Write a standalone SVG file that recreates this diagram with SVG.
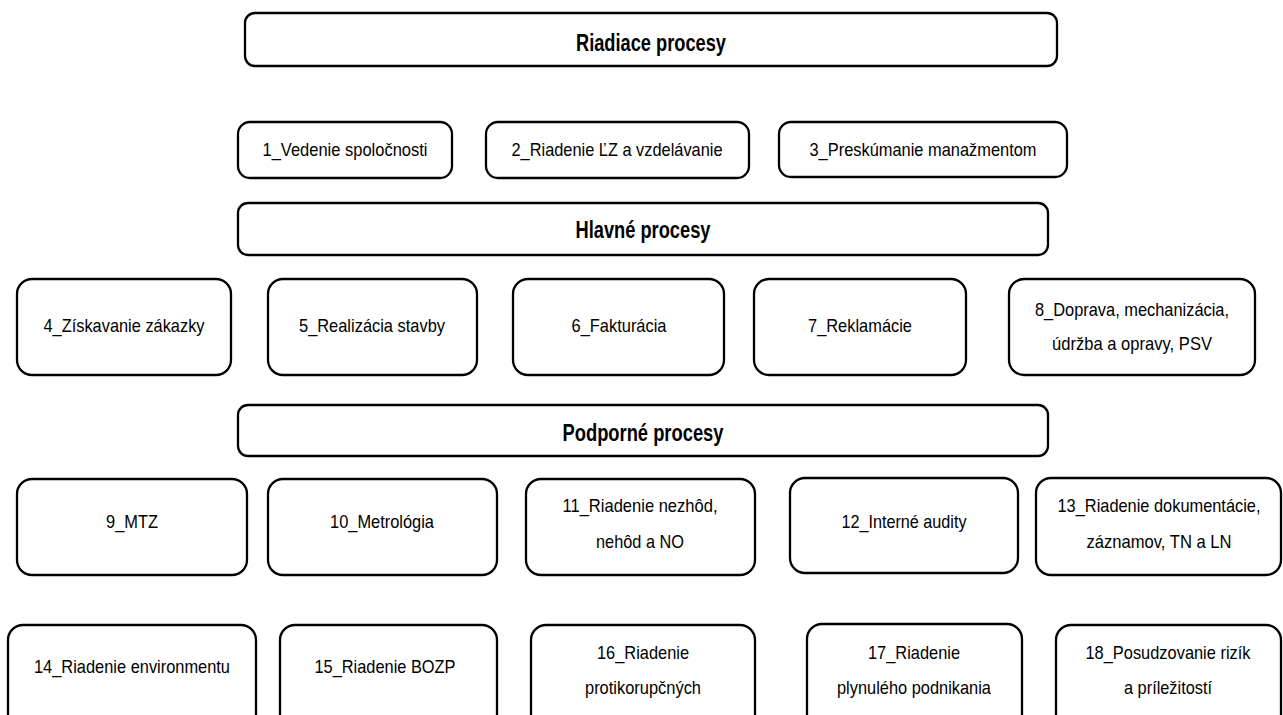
<svg xmlns="http://www.w3.org/2000/svg" width="1283" height="715" viewBox="0 0 1283 715">
<style>
.box{fill:#fff;stroke:#000;stroke-width:2.3}
.t{font-family:"Liberation Sans",Arial,sans-serif;font-size:19px;fill:#000;text-anchor:middle}
.h{font-family:"Liberation Sans",Arial,sans-serif;font-size:23px;font-weight:bold;fill:#000;text-anchor:middle}
</style>
<rect width="1283" height="715" fill="#fff"/>
<g id="connectors"></g>
<g id="hdr-riadiace"><rect class="box" x="245" y="13" width="812" height="53" rx="10"/><text class="h" x="651" y="51" textLength="150" lengthAdjust="spacingAndGlyphs">Riadiace procesy</text></g>
<g id="n1"><rect class="box" x="238" y="122" width="214" height="56" rx="12"/><text class="t" x="345" y="156" textLength="165" lengthAdjust="spacingAndGlyphs">1_Vedenie spoločnosti</text></g>
<g id="n2"><rect class="box" x="486" y="122" width="263" height="56" rx="12"/><text class="t" x="617" y="156" textLength="211" lengthAdjust="spacingAndGlyphs">2_Riadenie ĽZ a vzdelávanie</text></g>
<g id="n3"><rect class="box" x="779" y="122" width="288" height="55" rx="12"/><text class="t" x="923" y="156" textLength="227" lengthAdjust="spacingAndGlyphs">3_Preskúmanie manažmentom</text></g>
<g id="hdr-hlavne"><rect class="box" x="238" y="203" width="810" height="52" rx="10"/><text class="h" x="643" y="238" textLength="135" lengthAdjust="spacingAndGlyphs">Hlavné procesy</text></g>
<g id="n4"><rect class="box" x="17" y="279" width="214" height="96" rx="15"/><text class="t" x="124" y="332" textLength="161" lengthAdjust="spacingAndGlyphs">4_Získavanie zákazky</text></g>
<g id="n5"><rect class="box" x="268" y="279" width="209" height="96" rx="15"/><text class="t" x="372" y="332" textLength="146" lengthAdjust="spacingAndGlyphs">5_Realizácia stavby</text></g>
<g id="n6"><rect class="box" x="513" y="279" width="211" height="96" rx="15"/><text class="t" x="619" y="332" textLength="95" lengthAdjust="spacingAndGlyphs">6_Fakturácia</text></g>
<g id="n7"><rect class="box" x="754" y="279" width="212" height="96" rx="15"/><text class="t" x="860" y="332" textLength="104" lengthAdjust="spacingAndGlyphs">7_Reklamácie</text></g>
<g id="n8"><rect class="box" x="1009" y="279" width="246" height="96" rx="15"/><text class="t" x="1132" y="316" textLength="194" lengthAdjust="spacingAndGlyphs">8_Doprava, mechanizácia,</text><text class="t" x="1132" y="350" textLength="160" lengthAdjust="spacingAndGlyphs">údržba a opravy, PSV</text></g>
<g id="hdr-podporne"><rect class="box" x="238" y="405" width="810" height="51" rx="10"/><text class="h" x="643" y="441" textLength="161" lengthAdjust="spacingAndGlyphs">Podporné procesy</text></g>
<g id="n9"><rect class="box" x="17" y="479" width="230" height="96" rx="15"/><text class="t" x="132" y="528" textLength="52" lengthAdjust="spacingAndGlyphs">9_MTZ</text></g>
<g id="n10"><rect class="box" x="268" y="479" width="229" height="96" rx="15"/><text class="t" x="382" y="528" textLength="104" lengthAdjust="spacingAndGlyphs">10_Metrológia</text></g>
<g id="n11"><rect class="box" x="526" y="479" width="229" height="96" rx="15"/><text class="t" x="640" y="512" textLength="155" lengthAdjust="spacingAndGlyphs">11_Riadenie nezhôd,</text><text class="t" x="640" y="548" textLength="88" lengthAdjust="spacingAndGlyphs">nehôd a NO</text></g>
<g id="n12"><rect class="box" x="790" y="478" width="228" height="95" rx="15"/><text class="t" x="904" y="528" textLength="125" lengthAdjust="spacingAndGlyphs">12_Interné audity</text></g>
<g id="n13"><rect class="box" x="1036" y="478" width="245" height="97" rx="15"/><text class="t" x="1159" y="512" font-size="17" textLength="203" lengthAdjust="spacingAndGlyphs">13_Riadenie dokumentácie,</text><text class="t" x="1159" y="548" textLength="145" lengthAdjust="spacingAndGlyphs">záznamov, TN a LN</text></g>
<g id="n14"><rect class="box" x="8" y="625" width="248" height="110" rx="15"/><text class="t" x="132" y="673" textLength="196" lengthAdjust="spacingAndGlyphs">14_Riadenie environmentu</text></g>
<g id="n15"><rect class="box" x="280" y="625" width="217" height="110" rx="15"/><text class="t" x="385" y="673" textLength="141" lengthAdjust="spacingAndGlyphs">15_Riadenie BOZP</text></g>
<g id="n16"><rect class="box" x="531" y="625" width="224" height="110" rx="15"/><text class="t" x="643" y="659" textLength="92" lengthAdjust="spacingAndGlyphs">16_Riadenie</text><text class="t" x="643" y="694" textLength="116" lengthAdjust="spacingAndGlyphs">protikorupčných</text></g>
<g id="n17"><rect class="box" x="807" y="624" width="215" height="111" rx="15"/><text class="t" x="914" y="659" textLength="92" lengthAdjust="spacingAndGlyphs">17_Riadenie</text><text class="t" x="914" y="694" textLength="154" lengthAdjust="spacingAndGlyphs">plynulého podnikania</text></g>
<g id="n18"><rect class="box" x="1056" y="625" width="225" height="110" rx="15"/><text class="t" x="1168" y="659" textLength="165" lengthAdjust="spacingAndGlyphs">18_Posudzovanie rizík</text><text class="t" x="1168" y="694" textLength="88" lengthAdjust="spacingAndGlyphs">a príležitostí</text></g>
</svg>
